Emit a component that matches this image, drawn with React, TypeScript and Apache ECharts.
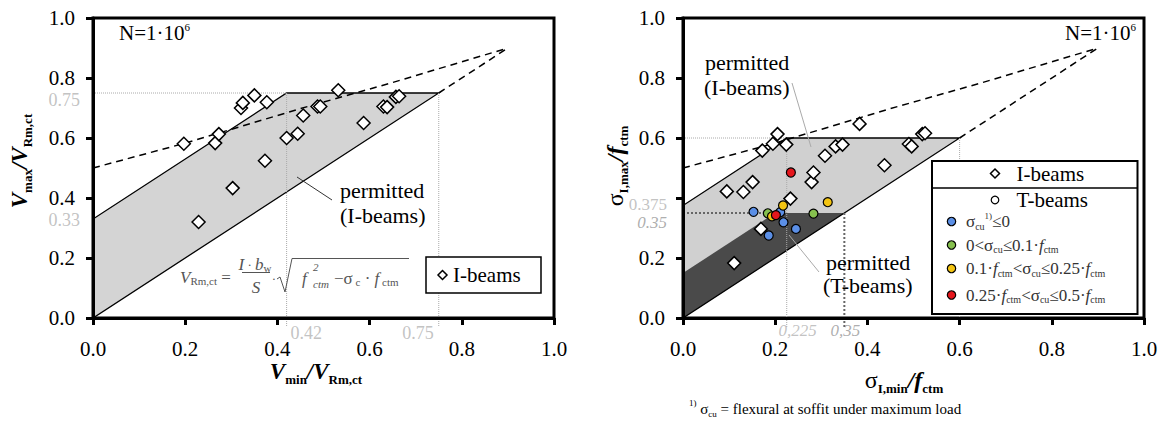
import React, { useEffect, useRef } from "react";
import * as echarts from "echarts";

const SERIF = "Liberation Serif";

// ---------------- Left panel: V_min/V_Rm,ct vs V_max/V_Rm,ct ----------------
const leftIBeamX = [0.197, 0.229, 0.265, 0.273, 0.303, 0.321, 0.325, 0.35, 0.373, 0.377, 0.42, 0.444, 0.456, 0.487, 0.493, 0.532, 0.587, 0.63, 0.638, 0.657, 0.664];
const leftIBeamY = [0.581, 0.32, 0.583, 0.613, 0.433, 0.7, 0.717, 0.742, 0.524, 0.719, 0.6, 0.614, 0.675, 0.705, 0.705, 0.759, 0.65, 0.705, 0.703, 0.737, 0.739];
const leftPermitted = [[0, 0], [0, 0.33], [0.42, 0.75], [0.75, 0.75]];
const leftDiagExt = [[0.75, 0.75], [0.9, 0.9]];
const leftRefLight = [
  [[0, 0.75], [0.42, 0.75]],
  [[0.42, 0.75], [0.42, -0.03]],
  [[0.75, 0.75], [0.75, -0.03]],
];

// Fatigue envelope N = 1·10^6 (both panels)
const envelopeX = [0, 0.2, 0.45, 0.65, 0.9];
const envelopeY = [0.5, 0.583, 0.698, 0.785, 0.9];

// ---------------- Right panel: σI,min/fctm vs σI,max/fctm ----------------
const rightIBeamX = [0.095, 0.131, 0.151, 0.111, 0.169, 0.172, 0.195, 0.205, 0.224, 0.233, 0.279, 0.283, 0.308, 0.331, 0.346, 0.383, 0.437, 0.49, 0.496, 0.519, 0.525];
const rightIBeamY = [0.422, 0.42, 0.453, 0.183, 0.297, 0.558, 0.581, 0.613, 0.578, 0.398, 0.453, 0.485, 0.541, 0.572, 0.578, 0.647, 0.509, 0.58, 0.572, 0.613, 0.616];
const tBlueX = [0.153, 0.186, 0.211, 0.218, 0.245];
const tBlueY = [0.354, 0.275, 0.353, 0.319, 0.297];
const tGreenX = [0.184, 0.283];
const tGreenY = [0.349, 0.348];
const tYellowX = [0.217, 0.193, 0.314];
const tYellowY = [0.375, 0.339, 0.386];
const tRedX = [0.234, 0.2015];
const tRedY = [0.485, 0.343];
const rightPermittedI = [[0, 0], [0, 0.375], [0.225, 0.6], [0.6, 0.6]];
const rightPermittedT = [[0, 0], [0, 0.15], [0.2, 0.35], [0.35, 0.35]];
const rightDiagExt = [[0.6, 0.6], [0.9, 0.9]];
const rightRefLight = [
  [[0, 0.6], [0.225, 0.6]],
  [[0.225, 0.6], [0.225, -0.03]],
  [[0.6, 0.6], [0.6, 0]],
];
const rightRefDark = [
  [[0, 0.35], [0.2, 0.35]],
  [[0.35, 0.35], [0.35, -0.03]],
];

const tickLabels = ["0.0", "0.2", "0.4", "0.6", "0.8", "1.0"];
const rightYTickLabels = ["0.0", "0.2", "", "0.6", "0.8", "1.0"];

const COLORS = { blue: "#5b8fe6", green: "#86c04e", yellow: "#f3c412", red: "#e5161c" };

const zip = (xs: number[], ys: number[]) => xs.map((x, i) => [x, ys[i]]);

const axis = (gridIndex: number, isX: boolean, labels: string[]) => ({
  gridIndex,
  type: "value",
  min: 0,
  max: 1,
  interval: 0.2,
  z: 10,
  axisLine: { show: true, onZero: false, lineStyle: { color: "#000", width: 3 } },
  axisTick: { show: true, inside: false, length: 7, lineStyle: { color: "#000", width: 3 } },
  axisLabel: {
    color: "#000",
    fontFamily: SERIF,
    fontSize: 21,
    margin: isX ? 20 : 18,
    showMinLabel: true,
    showMaxLabel: true,
    formatter: (v: number) => labels[Math.round(v / 0.2)],
  },
  splitLine: { show: false },
});

const polygon = (gi: number, pts: number[][], fill: string, stroke: string, z: number) => ({
  type: "custom",
  xAxisIndex: gi,
  yAxisIndex: gi,
  silent: true,
  z,
  data: [[0, 0]],
  renderItem: (_p: any, api: any) => ({
    type: "polygon",
    shape: { points: pts.map((p) => api.coord(p)) },
    style: { fill, stroke, lineWidth: 1.3 },
  }),
});

const lineS = (gi: number, pts: number[][], color: string, width: number, type: any, z: number) => ({
  type: "line",
  xAxisIndex: gi,
  yAxisIndex: gi,
  data: pts,
  symbol: "none",
  clip: false,
  silent: true,
  z,
  lineStyle: { color, width, type },
});

const scatterS = (gi: number, pts: number[][], symbol: string, size: number, color: string, z: number) => ({
  type: "scatter",
  xAxisIndex: gi,
  yAxisIndex: gi,
  data: pts,
  symbol,
  symbolSize: size,
  clip: false,
  silent: true,
  z,
  itemStyle: { color, borderColor: "#000", borderWidth: symbol === "diamond" ? 1.5 : 1.2, opacity: 1 },
});

type Ann = { x: number; y: number; text: string; align: string; offset: number[]; color: string; italic?: boolean; size?: number };
const annot = (gi: number, items: Ann[]) => ({
  type: "scatter",
  xAxisIndex: gi,
  yAxisIndex: gi,
  symbolSize: 0,
  clip: false,
  silent: true,
  z: 6,
  data: items.map((it) => ({
    value: [it.x, it.y],
    label: {
      show: true,
      position: "inside",
      formatter: it.text,
      align: it.align,
      verticalAlign: "middle",
      offset: it.offset,
      color: it.color,
      fontSize: it.size || 18,
      fontFamily: SERIF,
      fontStyle: it.italic ? "italic" : "normal",
    },
  })),
});

// ---------- graphic helpers ----------
const rs = (size: number, o: any = {}) => ({
  fontFamily: SERIF,
  fontSize: size,
  fontStyle: o.i ? "italic" : "normal",
  fontWeight: o.b ? "bold" : "normal",
  fill: o.c,
  padding: o.p || [0, 0, 0, 0],
});
const T = (x: number, y: number, text: string, o: any = {}) => ({
  type: "text",
  x,
  y,
  z: 100,
  silent: true,
  rotation: o.rotation || 0,
  style: {
    text,
    fontFamily: SERIF,
    fontSize: o.size || 20,
    fontStyle: o.italic ? "italic" : "normal",
    fontWeight: o.bold ? "bold" : "normal",
    fill: o.color || "#000",
    align: o.align || "left",
    verticalAlign: "middle",
    rich: o.rich,
  },
});
const L = (x1: number, y1: number, x2: number, y2: number, color: string, w = 1) => ({
  type: "line",
  z: 100,
  silent: true,
  shape: { x1, y1, x2, y2 },
  style: { stroke: color, lineWidth: w },
});
const diamondG = (cx: number, cy: number, r: number) => ({
  type: "polygon",
  z: 100,
  silent: true,
  shape: { points: [[cx, cy - r], [cx + r, cy], [cx, cy + r], [cx - r, cy]] },
  style: { fill: "#fff", stroke: "#000", lineWidth: 1.5 },
});
const circleG = (cx: number, cy: number, r: number, fill: string) => ({
  type: "circle",
  z: 100,
  silent: true,
  shape: { cx, cy, r },
  style: { fill, stroke: "#000", lineWidth: 1.2 },
});

const titleRich = (main: number, sub: number, pad: number) => ({
  V: rs(main, { i: true, b: true }),
  g: rs(main, {}),
  s: rs(sub, { b: true, p: [pad, 0, 0, 0] }),
});

const FG = "#555";
const fr = {
  i: rs(17, { i: true, c: FG }),
  m: rs(17, { c: FG }),
  d: rs(13, { c: FG }),
  s: rs(11, { c: FG, p: [8, 0, 0, 0] }),
};
const LG = "#333";
const lr = {
  m: rs(17, { c: LG }),
  i: rs(17, { i: true, c: LG }),
  s: rs(10, { c: LG, p: [9, 0, 0, 0] }),
  sp: rs(9, { c: LG, p: [0, 0, 12, 0] }),
};
const nRich = { m: rs(21, {}), sp: rs(11, { p: [0, 0, 12, 0] }) };

const graphics: any[] = [
  // N = 1·10^6
  T(119, 33, "{m|N=1·10}{sp|6}", { rich: nRich }),
  T(1136, 33, "{m|N=1·10}{sp|6}", { rich: nRich, align: "right" }),
  // axis titles
  T(316, 371, "{V|V}{s|min}{V|/V}{s|Rm,ct}", { rich: titleRich(23, 13, 16), align: "center" }),
  T(19, 161, "{V|V}{s|max}{V|/V}{s|Rm,ct}", { rich: titleRich(23, 13, 16), align: "center", rotation: Math.PI / 2 }),
  T(904, 380, "{g|σ}{s|I,min}{V|/f}{s|ctm}", { rich: titleRich(24, 13, 16), align: "center" }),
  T(615, 166, "{g|σ}{s|I,max}{V|/f}{s|ctm}", { rich: titleRich(24, 13, 16), align: "center", rotation: Math.PI / 2 }),
  // permitted labels
  T(340, 190, "permitted", { size: 22 }),
  T(340, 215, "(I-beams)", { size: 22 }),
  L(297, 177, 332, 200, "#333"),
  T(705, 62, "permitted", { size: 22 }),
  T(704, 87, "(I-beams)", { size: 22 }),
  L(792, 83, 811, 147, "#aaa"),
  T(826, 262, "permitted", { size: 22 }),
  T(823, 285, "(T-beams)", { size: 22 }),
  L(789, 235, 819, 272, "#aaa"),
  // formula
  T(180, 277, "{i|V}{s|Rm,ct}{m| =}", { rich: fr }),
  T(255, 264, "{i|I}{d| · }{i|b}{s|w}", { rich: fr, align: "center" }),
  L(242, 272.5, 270, 272.5, FG),
  T(256, 287, "{i|S}", { rich: fr, align: "center" }),
  T(274, 278, "{d|·}", { rich: fr, align: "center" }),
  {
    type: "polyline",
    z: 100,
    silent: true,
    shape: { points: [[277, 279], [280, 277], [285, 292], [292, 258.5], [409, 258.5]] },
    style: { stroke: FG, lineWidth: 1, fill: "none" },
  },
  T(302, 278, "{i|f}", { rich: fr }),
  T(313, 267, "2", { size: 11, italic: true, color: FG }),
  T(313, 284, "ctm", { size: 11, italic: true, color: FG }),
  T(334, 278, "{m|−σ}{s| c}{m| · }{i|f}{s| ctm}", { rich: fr }),
  // left legend
  {
    type: "rect",
    z: 100,
    silent: true,
    shape: { x: 426, y: 257, width: 115, height: 36 },
    style: { fill: "#fff", stroke: "#000", lineWidth: 1.5 },
  },
  diamondG(442.5, 275, 4.5),
  T(453, 275, "I-beams", { size: 21 }),
  // right legend
  {
    type: "rect",
    z: 100,
    silent: true,
    shape: { x: 932, y: 161, width: 205.5, height: 153 },
    style: { fill: "#fff", stroke: "#000", lineWidth: 2 },
  },
  L(932, 188, 1137.5, 188, "#000", 1.5),
  diamondG(995, 173.5, 4.5),
  T(1016.5, 173.5, "I-beams", { size: 21 }),
  circleG(995, 200, 3.8, "#fff"),
  T(1016.5, 200, "T-beams", { size: 21 }),
  circleG(951.5, 221.5, 4.2, COLORS.blue),
  T(966, 221.5, "{m|σ}{s|cu}{sp|1)}{m|≤0}", { rich: lr }),
  circleG(951.5, 245, 4.2, COLORS.green),
  T(966, 245, "{m|0<σ}{s|cu}{m|≤0.1·}{i|f}{s|ctm}", { rich: lr }),
  circleG(951.5, 268.5, 4.2, COLORS.yellow),
  T(966, 268.5, "{m|0.1·}{i|f}{s|ctm}{m|<σ}{s|cu}{m|≤0.25·}{i|f}{s|ctm}", { rich: lr }),
  circleG(951.5, 295, 4.2, COLORS.red),
  T(966, 295, "{m|0.25·}{i|f}{s|ctm}{m|<σ}{s|cu}{m|≤0.5·}{i|f}{s|ctm}", { rich: lr }),
  // footnote
  T(689, 409, "{sp|1)}{m| σ}{s|cu}{m| = flexural at soffit under maximum load}", {
    rich: { m: rs(15, {}), s: rs(9, { p: [9, 0, 0, 0] }), sp: rs(9, { p: [0, 0, 12, 0] }) },
  }),
];

const lightGray = "#b3b3b3";
const midGray = "#999";

const option: any = {
  animation: false,
  backgroundColor: "#fff",
  textStyle: { fontFamily: SERIF },
  grid: [
    { left: 93, top: 18, width: 461, height: 300, show: true, borderColor: "#000", borderWidth: 3, backgroundColor: "transparent" },
    { left: 683, top: 18, width: 461, height: 300, show: true, borderColor: "#000", borderWidth: 3, backgroundColor: "transparent" },
  ],
  xAxis: [axis(0, true, tickLabels), axis(1, true, tickLabels)],
  yAxis: [axis(0, false, tickLabels), axis(1, false, rightYTickLabels)],
  series: [
    // ---- left
    polygon(0, leftPermitted, "#d4d4d4", "#000", 1),
    ...leftRefLight.map((p) => lineS(0, p, "#aaa", 1, "dotted", 2)),
    lineS(0, zip(envelopeX, envelopeY), "#000", 1.5, [7, 5], 3),
    lineS(0, leftDiagExt, "#000", 1.5, [7, 5], 3),
    scatterS(0, zip(leftIBeamX, leftIBeamY), "diamond", 13, "#fff", 5),
    annot(0, [
      { x: 0, y: 0.75, text: "0.75", align: "right", offset: [-13, 7], color: lightGray },
      { x: 0, y: 0.33, text: "0.33", align: "right", offset: [-13, 1], color: lightGray },
      { x: 0.42, y: 0, text: "0.42", align: "left", offset: [4, 15], color: lightGray },
      { x: 0.75, y: 0, text: "0.75", align: "right", offset: [-5, 15], color: lightGray },
    ]),
    // ---- right
    polygon(1, rightPermittedI, "#d0d0d0", "none", 1),
    polygon(1, rightPermittedT, "#4a4a4a", "none", 1.5),
    polygon(1, rightPermittedI, "none", "#000", 1.8),
    ...rightRefLight.map((p) => lineS(1, p, "#aaa", 1, "dotted", 2)),
    ...rightRefDark.map((p) => lineS(1, p, "#666", 2, [2, 2], 2)),
    lineS(1, zip(envelopeX, envelopeY), "#000", 1.5, [7, 5], 3),
    lineS(1, rightDiagExt, "#000", 1.5, [7, 5], 3),
    scatterS(1, zip(rightIBeamX, rightIBeamY), "diamond", 13, "#fff", 5),
    scatterS(1, zip(tBlueX, tBlueY), "circle", 9, COLORS.blue, 5),
    scatterS(1, zip(tGreenX, tGreenY), "circle", 9, COLORS.green, 5),
    scatterS(1, zip(tYellowX, tYellowY), "circle", 9, COLORS.yellow, 5),
    scatterS(1, zip(tRedX, tRedY), "circle", 9, COLORS.red, 5),
    annot(1, [
      { x: 0, y: 0.375, text: "0.375", align: "right", offset: [-16, -1], color: lightGray, size: 17 },
      { x: 0, y: 0.35, text: "0.35", align: "right", offset: [-16, 9], color: midGray, italic: true, size: 17 },
      { x: 0.225, y: 0, text: "0,225", align: "center", offset: [11, 12], color: lightGray, italic: true, size: 17 },
      { x: 0.35, y: 0, text: "0,35", align: "center", offset: [1, 12], color: midGray, italic: true, size: 17 },
    ]),
  ],
  graphic: { elements: graphics },
};

export default function App() {
  const ref = useRef<HTMLDivElement>(null);
  useEffect(() => {
    const chart = echarts.init(ref.current as HTMLDivElement, null, { renderer: "svg" });
    chart.setOption(option);
    return () => chart.dispose();
  }, []);
  return (
    <div
      ref={ref}
      style={{ position: "absolute", left: 0, top: 0, width: 1162, height: 422, background: "#fff" }}
    />
  );
}
